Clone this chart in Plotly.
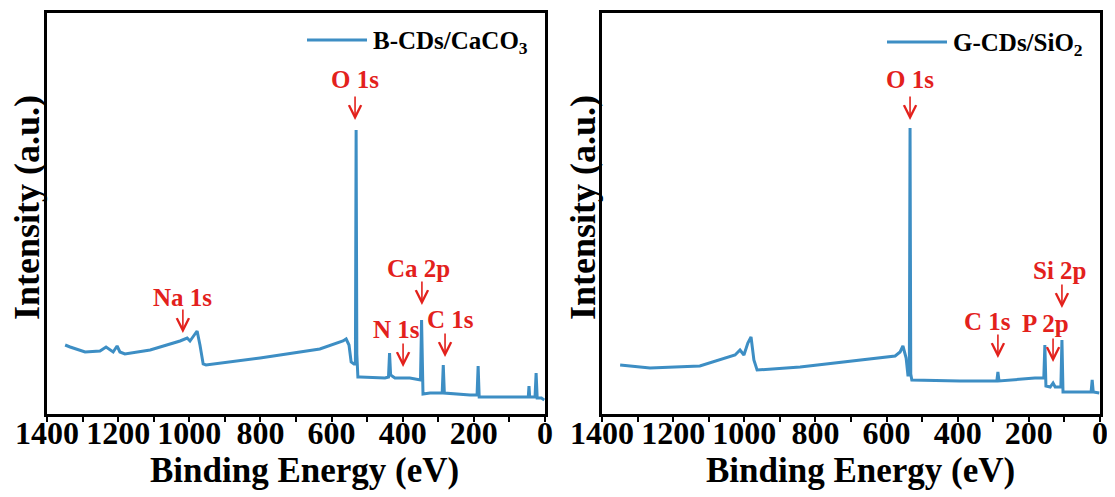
import plotly.graph_objects as go

# ---------------- data ----------------
# Left panel: B-CDs/CaCO3 survey spectrum (binding energy eV, intensity a.u.)
E_left = [1349, 1335, 1293, 1251, 1234, 1223, 1214, 1203, 1195, 1181, 1110, 1026, 1006, 998, 987, 978,
          970, 961, 953, 801, 633, 568, 559, 551, 545, 537, 533, 531, 529, 526, 520, 450, 440, 437, 434,
          422, 380, 357, 350, 347, 345, 343, 323, 289, 286, 283, 211, 191, 188, 185, 56, 47, 45, 43,
          28, 25, 22, 10, 2]
I_left = [69, 67, 62, 63, 67, 64, 62, 68, 62, 60, 64, 73, 76, 73, 78, 83,
          69, 50, 49, 56, 65, 73, 75, 69, 52, 50, 50, 284, 60, 37, 37, 36, 37, 61, 39,
          36, 36, 34, 34, 94, 40, 20, 21, 21, 49, 21, 19, 19, 48, 17, 17, 17, 28, 17,
          17, 41, 16, 16, 14]

# Right panel: G-CDs/SiO2 survey spectrum
E_right = [1349, 1265, 1125, 1026, 1012, 1001, 990, 981, 973, 964, 843, 576, 562, 554, 545, 540,
           536, 534, 532, 529, 394, 290, 287, 284, 183, 158, 155, 152, 140, 132, 126, 110, 107, 104,
           34, 25, 22, 19, 2]
I_right = [49, 46, 48, 59, 64, 59, 71, 77, 54, 44, 47, 58, 62, 68, 56, 39,
           39, 286, 40, 34, 33, 33, 42, 33, 36, 36, 69, 28, 27, 31, 27, 27, 74, 22,
           22, 22, 34, 22, 21]

tick_vals = [1400, 1300, 1200, 1100, 1000, 900, 800, 700, 600, 500, 400, 300, 200, 100, 0]
tick_text = ["1400", "", "1200", "", "1000", "", "800", "", "600", "", "400", "", "200", "", "0"]

legend_left = "B-CDs/CaCO<sub>3</sub>"
legend_right = "G-CDs/SiO<sub>2</sub>"

# peak labels: (text, x of text, y of text, x of arrow tip, y of arrow tip)
labels_left = [("O 1s", 534, 334, 534, 294),
               ("Na 1s", 1020, 117, 1018, 81),
               ("Ca 2p", 357, 146, 346, 109),
               ("N 1s", 418, 85, 399, 47),
               ("C 1s", 267, 95, 281, 57)]
labels_right = [("O 1s", 534, 334, 534, 294),
                ("Si 2p", 112, 144, 107, 106),
                ("C 1s", 315, 93, 287, 56),
                ("P 2p", 152, 91, 132, 52)]

# ---------------- styling ----------------
W, H = 1115, 497
OFF = 8  # page body margin of the html page
FONT = "Times New Roman, Liberation Serif, serif"
BLUE = "#3d8ec4"
RED = "#e3211c"

# pixel layout (as seen in the screenshot)
L_x0, L_x1 = 47, 545
R_x0, R_x1 = 602, 1100
Y_top, Y_bot = 13, 414

def px(v):
    return (v - OFF) / W

def py(v):
    return 1 - (v - OFF) / H

fig = go.Figure()
fig.add_trace(go.Scatter(x=E_left, y=I_left, mode="lines", line=dict(color=BLUE, width=3),
                         xaxis="x", yaxis="y", showlegend=False))
fig.add_trace(go.Scatter(x=E_right, y=I_right, mode="lines", line=dict(color=BLUE, width=3),
                         xaxis="x2", yaxis="y2", showlegend=False))

xcommon = dict(range=[1400, 0], tickmode="array", tickvals=tick_vals, ticktext=tick_text,
               ticks="outside", ticklen=5, tickwidth=2, tickcolor="black",
               showline=True, linewidth=3, linecolor="black", mirror=True,
               showgrid=False, zeroline=False, automargin=False, ticklabelstandoff=-16,
               tickfont=dict(family=FONT, size=32, color="black", weight="bold"))
ycommon = dict(range=[0, 401], showticklabels=False, ticks="", showline=True, linewidth=3,
               linecolor="black", mirror=True, showgrid=False, zeroline=False, automargin=False)

fig.update_layout(
    width=W, height=H, margin=dict(l=0, r=0, t=0, b=0, autoexpand=False),
    paper_bgcolor="white", plot_bgcolor="white",
    xaxis=dict(domain=[px(L_x0), px(L_x1)], anchor="y", **xcommon),
    yaxis=dict(domain=[py(Y_bot), py(Y_top)], anchor="x", **ycommon),
    xaxis2=dict(domain=[px(R_x0), px(R_x1)], anchor="y2", **xcommon),
    yaxis2=dict(domain=[py(Y_bot), py(Y_top)], anchor="x2", **ycommon),
    showlegend=False,
)

ann = []
shapes = []
ytitle_font = dict(family=FONT, size=36, color="black", weight="bold")
xtitle_font = dict(family=FONT, size=35, color="black", weight="bold")
for cx in [27, 583]:
    ann.append(dict(xref="paper", yref="paper", x=px(cx), y=py(208), text="Intensity (a.u.)",
                    textangle=-90, showarrow=False, font=ytitle_font, xanchor="center", yanchor="middle"))
for cx in [304, 860]:
    ann.append(dict(xref="paper", yref="paper", x=px(cx), y=py(470), text="Binding Energy (eV)",
                    showarrow=False, font=xtitle_font, xanchor="center", yanchor="middle"))

# legends (line sample + text)
leg_font = dict(family=FONT, size=25, color="black", weight="bold")
for (lx0, lx1, ly, txt) in [(307, 367, 40, legend_left), (887, 947, 42, legend_right)]:
    shapes.append(dict(type="line", xref="paper", yref="paper", x0=px(lx0), x1=px(lx1),
                       y0=py(ly), y1=py(ly), line=dict(color=BLUE, width=3)))
    ann.append(dict(xref="paper", yref="paper", x=px(lx1 + 4), y=py(ly + 2), text=txt,
                    showarrow=False, font=leg_font, xanchor="left", yanchor="middle"))

lab_font = dict(family=FONT, size=25, color=RED, weight="bold")
for axn, labels in [("", labels_left), ("2", labels_right)]:
    for (t, tx, ty, ax_, ay_) in labels:
        ann.append(dict(xref="x" + axn, yref="y" + axn, x=tx, y=ty, text=t, showarrow=False,
                        font=lab_font, xanchor="center", yanchor="middle"))
        ann.append(dict(xref="x" + axn, yref="y" + axn, x=ax_, y=ay_, text="", showarrow=True,
                        ax=0, ay=-25, arrowhead=5, arrowsize=1.5, arrowwidth=1.6, arrowcolor=RED))

fig.update_layout(annotations=ann, shapes=shapes)
fig.write_html("out.html")
